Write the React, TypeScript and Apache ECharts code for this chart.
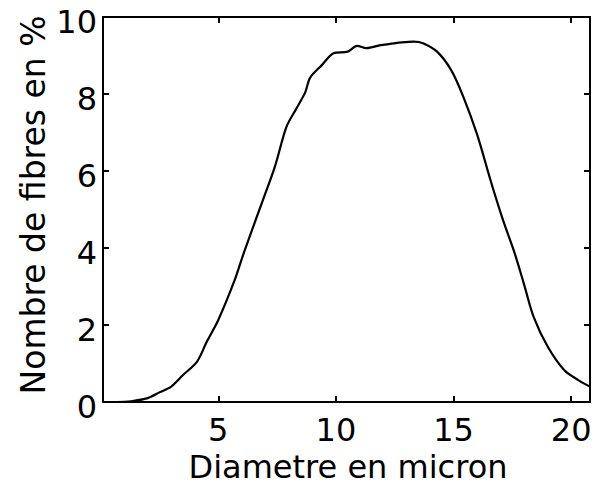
import React, { useEffect, useRef } from "react";
import * as echarts from "echarts";

const diameter = [0.1, 0.7, 1.3, 2.0, 2.5, 3.0, 3.5, 4.1, 4.5, 5.0, 5.7, 6.1, 6.9, 7.4, 7.9, 8.3, 8.7, 8.9, 9.4, 9.9, 10.5, 10.9, 11.3, 11.9, 12.3, 12.8, 13.3, 13.7, 14.3, 14.9, 15.4, 16.0, 16.6, 17.1, 17.6, 18.0, 18.4, 19.0, 19.7, 20.3, 20.8];
const percent = [0.0, 0.0, 0.02, 0.1, 0.25, 0.4, 0.7, 1.05, 1.55, 2.13, 3.17, 3.9, 5.25, 6.1, 7.15, 7.6, 8.05, 8.42, 8.75, 9.06, 9.1, 9.25, 9.19, 9.27, 9.3, 9.34, 9.36, 9.32, 9.1, 8.62, 7.95, 6.95, 5.7, 4.73, 3.86, 3.05, 2.22, 1.44, 0.83, 0.57, 0.4];
const xTicks = [5, 10, 15, 20];
const xTitle = "Diametre en micron";
const yTitle = "Nombre de fibres en %";

const FONT = "DejaVu Sans";

export default function App() {
  const ref = useRef<HTMLDivElement>(null);
  useEffect(() => {
    const chart = echarts.init(ref.current!, null, { renderer: "svg" });
    const axisLine = { show: true, onZero: false, lineStyle: { color: "#000", width: 2 } };
    const tick = { show: true, inside: true, length: 6, lineStyle: { color: "#000", width: 2 } };
    chart.setOption({
      animation: false,
      backgroundColor: "#fff",
      grid: { left: 103, right: 10, top: 17, bottom: 84 },
      xAxis: [
        {
          type: "value", position: "bottom", min: 0.1, max: 20.8,
          axisLine, axisTick: { ...tick, customValues: xTicks },
          axisLabel: { customValues: xTicks, color: "#000", fontFamily: FONT, fontSize: 32, margin: 12 },
          splitLine: { show: false },
        },
        {
          type: "value", position: "top", min: 0.1, max: 20.8,
          axisLine, axisTick: { ...tick, customValues: xTicks },
          axisLabel: { show: false }, splitLine: { show: false },
        },
      ],
      yAxis: [
        {
          type: "value", position: "left", min: 0, max: 10, interval: 2,
          axisLine, axisTick: tick,
          axisLabel: { color: "#000", fontFamily: FONT, fontSize: 32, margin: 6, verticalAlign: "top", lineHeight: 10 },
          splitLine: { show: false },
        },
        {
          type: "value", position: "right", min: 0, max: 10, interval: 2,
          axisLine, axisTick: tick, axisLabel: { show: false }, splitLine: { show: false },
        },
      ],
      graphic: [
        {
          type: "text", x: 348, y: 467,
          style: { text: xTitle, fill: "#000", font: `32px '${FONT}'`, textAlign: "center", textVerticalAlign: "middle" },
        },
        {
          type: "text", x: 33, y: 205, rotation: Math.PI / 2,
          style: { text: yTitle, fill: "#000", font: `33px '${FONT}'`, textAlign: "center", textVerticalAlign: "middle" },
        },
      ],
      series: [
        {
          type: "line", xAxisIndex: 0, yAxisIndex: 0,
          data: diameter.map((d, i) => [d, percent[i]]),
          showSymbol: false, smooth: 0.3,
          lineStyle: { color: "#000", width: 2.2 },
        },
      ],
    });
    return () => chart.dispose();
  }, []);
  return <div ref={ref} style={{ position: "fixed", left: 0, top: 0, width: 600, height: 486 }} />;
}
